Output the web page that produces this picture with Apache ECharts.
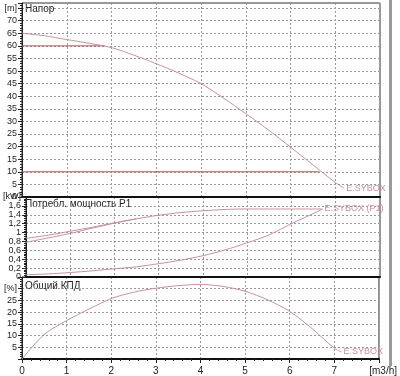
<!DOCTYPE html>
<html>
<head>
<meta charset="utf-8">
<script src="https://cdn.jsdelivr.net/npm/echarts@6/dist/echarts.min.js"></script>
<style>
  html, body { margin: 0; padding: 0; background: #fff; }
  #chart { width: 400px; height: 376px; }
</style>
</head>
<body>
<div id="chart"></div>
<script>
// Напор (head), m
const flowHead = [0, 0.5, 1, 1.5, 2, 2.5, 3, 3.5, 4, 4.5, 5, 5.5, 6, 6.5, 7, 7.2];
const head = [65, 64, 62.5, 61, 59.3, 56.3, 52.9, 49.2, 45, 39.3, 33.1, 26.7, 19.8, 12.8, 5.8, 3.5];
const limit60X = [0, 1.85];
const limit60Y = [60, 60];
const limit10X = [0, 6.65];
const limit10Y = [10, 10];

// Потребл. мощность P1, kW
const flowP1a = [0, 0.5, 1, 1.5, 2, 2.5, 3, 3.5, 4, 4.5, 5, 5.5, 6, 6.7];
const p1a = [0.87, 0.94, 1.03, 1.12, 1.22, 1.31, 1.39, 1.45, 1.49, 1.52, 1.53, 1.53, 1.53, 1.53];
const flowP1b = [0, 0.5, 1, 1.5, 2, 2.5];
const p1b = [0.78, 0.88, 0.98, 1.1, 1.21, 1.31];
const flowP1c = [0, 0.5, 1, 1.5, 2, 2.5, 3, 3.5, 4, 4.5, 5, 5.5, 6, 6.5, 6.7];
const p1c = [0.05, 0.07, 0.1, 0.14, 0.185, 0.23, 0.3, 0.38, 0.48, 0.61, 0.77, 0.95, 1.2, 1.43, 1.53];

// Общий КПД, %
const flowEff = [0, 0.5, 1, 1.5, 2, 2.5, 3, 3.5, 4, 4.5, 5, 5.5, 6, 6.5, 7, 7.16];
const eff = [0, 10.5, 16.4, 21.3, 25.8, 28.5, 30.2, 31.3, 31.8, 31, 28.9, 25.3, 20.3, 13, 4.6, 3];

const curveColor = '#c4919b';
const limitColor = '#a86060';
const labelColor = '#c88f9f';
const font = 'Liberation Sans, Arial, sans-serif';

function pairs(xs, ys) {
  return xs.map((x, i) => [x, ys[i]]);
}

var myChart = echarts.init(document.getElementById('chart'));

var gridStyle = { show: true, borderColor: '#333', borderWidth: 1, backgroundColor: 'transparent' };
var splitDash = { show: true, lineStyle: { color: '#999', type: [2, 2], width: 1 } };
var tickStyle = { show: true, length: 4, lineStyle: { color: '#222' } };
var minorStyle = { show: true, splitNumber: 5, length: 2, lineStyle: { color: '#222' } };
var labelFont = { fontSize: 9, color: '#222', fontFamily: font, margin: 5, hideOverlap: false, showMinLabel: true, showMaxLabel: true };

function xAxisFor(idx, showLabels) {
  return {
    type: 'value', gridIndex: idx, min: 0, max: 8, interval: 1,
    axisLine: { show: true, onZero: false, lineStyle: { color: '#111', width: 2 } },
    axisTick: showLabels ? tickStyle : { show: false },
    minorTick: showLabels ? minorStyle : { show: false },
    splitLine: splitDash,
    axisLabel: showLabels ? Object.assign({}, labelFont, {
      fontSize: 10,
      margin: 7,
      formatter: function (v) { return v === 8 ? '   [m3/h]' : String(v); }
    }) : { show: false }
  };
}

function yAxisFor(idx, max, interval, fmt) {
  return {
    type: 'value', gridIndex: idx, min: 0, max: max, interval: interval,
    axisLine: { show: true, lineStyle: { color: '#222', width: 1 } },
    axisTick: tickStyle,
    minorTick: minorStyle,
    splitLine: splitDash,
    axisLabel: Object.assign({}, labelFont, { formatter: fmt })
  };
}

var option = {
  animation: false,
  grid: [
    Object.assign({ left: 22, right: 20, top: 3, height: 194 }, gridStyle),
    Object.assign({ left: 22, right: 20, top: 197, height: 80 }, gridStyle),
    Object.assign({ left: 22, right: 20, top: 277, height: 82 }, gridStyle)
  ],
  xAxis: [xAxisFor(0, false), xAxisFor(1, false), xAxisFor(2, true)],
  yAxis: [
    yAxisFor(0, 77, 5, function (v) {
      if (v === 75) return '[m]';
      if (v % 5 !== 0) return '';
      return String(v);
    }),
    yAxisFor(1, 1.8, 0.2, function (v) {
      if (Math.abs(v - 1.8) < 1e-6) return '[kW]';
      return String(Math.round(v * 10) / 10).replace('.', ',');
    }),
    yAxisFor(2, 35, 5, function (v) {
      if (v === 30) return '[%]';
      if (v === 0 || v === 35) return '';
      return String(v);
    })
  ],
  graphic: [
    { type: 'text', left: 25, top: 4, style: { text: 'Напор', fontSize: 10, fill: '#222', fontFamily: font } },
    { type: 'text', left: 25, top: 199, style: { text: 'Потребл. мощность P1', fontSize: 10, fill: '#222', fontFamily: font } },
    { type: 'text', left: 25, top: 281, style: { text: 'Общий КПД', fontSize: 10, fill: '#222', fontFamily: font } },
    { type: 'rect', shape: { x: 389, y: 0, width: 3, height: 366 }, style: { fill: '#9a9a9a' } }
  ],
  series: [
    {
      type: 'line', xAxisIndex: 0, yAxisIndex: 0, data: pairs(limit60X, limit60Y),
      showSymbol: false, lineStyle: { color: limitColor, width: 1 }
    },
    {
      type: 'line', xAxisIndex: 0, yAxisIndex: 0, data: pairs(limit10X, limit10Y),
      showSymbol: false, lineStyle: { color: limitColor, width: 1 }
    },
    {
      type: 'line', xAxisIndex: 0, yAxisIndex: 0, data: pairs(flowHead, head),
      smooth: 0.3, showSymbol: false, lineStyle: { color: curveColor, width: 1 },
      endLabel: { show: true, formatter: 'E.SYBOX', color: labelColor, fontSize: 9, distance: 2 }
    },
    {
      type: 'line', xAxisIndex: 1, yAxisIndex: 1, data: pairs(flowP1a, p1a),
      smooth: 0.3, showSymbol: false, lineStyle: { color: curveColor, width: 1 },
      endLabel: { show: true, formatter: 'E.SYBOX (P1)', color: labelColor, fontSize: 9, distance: 2 }
    },
    {
      type: 'line', xAxisIndex: 1, yAxisIndex: 1, data: pairs(flowP1b, p1b),
      smooth: 0.3, showSymbol: false, lineStyle: { color: curveColor, width: 1 }
    },
    {
      type: 'line', xAxisIndex: 1, yAxisIndex: 1, data: pairs(flowP1c, p1c),
      smooth: 0.3, showSymbol: false, lineStyle: { color: curveColor, width: 1 }
    },
    {
      type: 'line', xAxisIndex: 2, yAxisIndex: 2, data: pairs(flowEff, eff),
      smooth: 0.3, showSymbol: false, lineStyle: { color: curveColor, width: 1 },
      endLabel: { show: true, formatter: 'E.SYBOX', color: labelColor, fontSize: 9, distance: 2 }
    }
  ]
};
myChart.setOption(option);
</script>
</body>
</html>
